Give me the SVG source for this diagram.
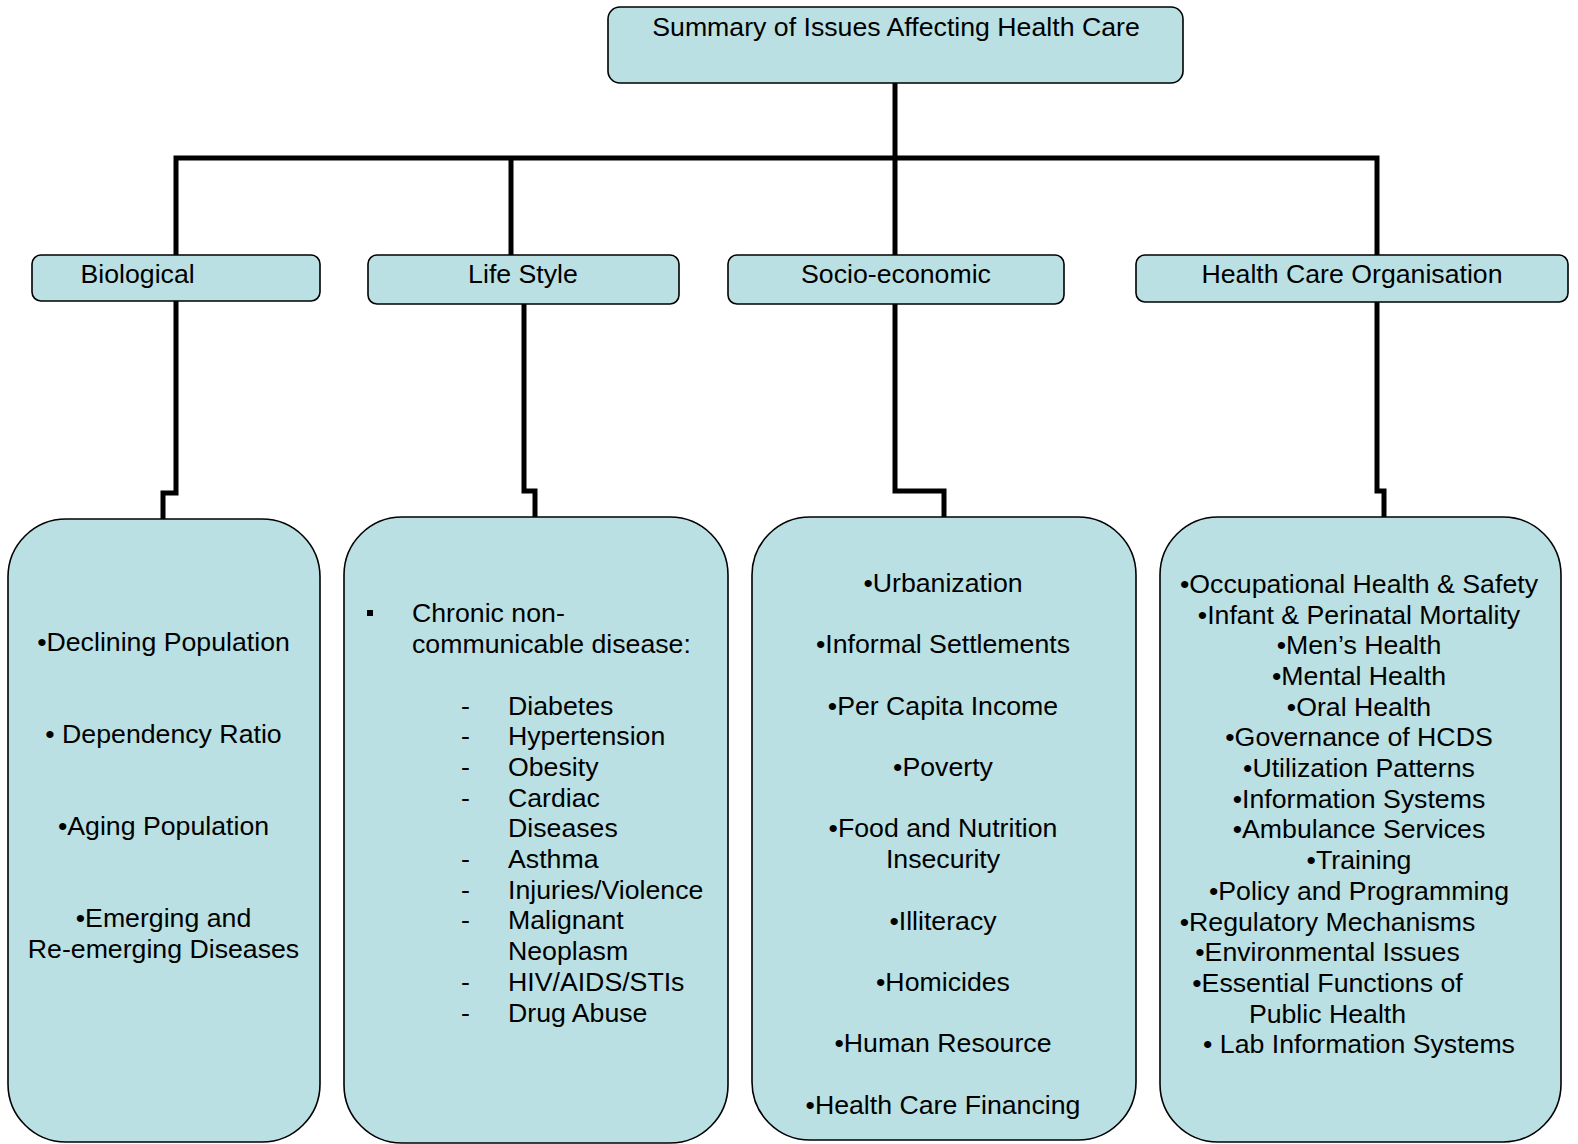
<svg xmlns="http://www.w3.org/2000/svg" width="1578" height="1144" viewBox="0 0 1578 1144">
<style>
.box{fill:#BAE0E3;stroke:#000;stroke-width:1.6}
.t{font-family:"Liberation Sans",Arial,sans-serif;font-size:26.7px;fill:#000}
.c{text-anchor:middle}
.conn{fill:none;stroke:#000;stroke-width:5;stroke-linejoin:miter;stroke-linecap:butt}
</style>
<rect width="1578" height="1144" fill="#fff"/>
<g id="connectors">
<path class="conn" d="M895 83 V255"/>
<path class="conn" d="M176 255 V158 H1377 V255"/>
<path class="conn" d="M511 158 V255"/>
<path class="conn" d="M176 301 V493 H163 V519"/>
<path class="conn" d="M524 304 V491 H535 V517"/>
<path class="conn" d="M895 304 V491 H944 V517"/>
<path class="conn" d="M1377 302 V491 H1384 V517"/>
</g>
<g id="root">
<rect class="box" x="608" y="7" width="575" height="76" rx="12"/>
<text class="t c" x="896" y="36">Summary of Issues Affecting Health Care</text>
</g>
<g id="biological">
<rect class="box" x="32" y="255" width="288" height="46" rx="9"/>
<text class="t" x="80.5" y="283">Biological</text>
</g>
<g id="lifestyle">
<rect class="box" x="368" y="255" width="311" height="49" rx="9"/>
<text class="t c" x="523" y="283">Life Style</text>
</g>
<g id="socioeconomic">
<rect class="box" x="728" y="255" width="336" height="49" rx="9"/>
<text class="t c" x="896" y="283">Socio-economic</text>
</g>
<g id="hco">
<rect class="box" x="1136" y="255" width="432" height="47" rx="9"/>
<text class="t c" x="1352" y="283">Health Care Organisation</text>
</g>
<g id="biological-items">
<rect class="box" x="8" y="519" width="312" height="623" rx="58"/>
<text class="t c" x="163.5" y="651">•Declining Population</text>
<text class="t c" x="163.5" y="743">• Dependency Ratio</text>
<text class="t c" x="163.5" y="835">•Aging Population</text>
<text class="t c" x="163.5" y="927">•Emerging and</text>
<text class="t c" x="163.5" y="958">Re-emerging Diseases</text>
</g>
<g id="lifestyle-items">
<rect class="box" x="344" y="517" width="384" height="626" rx="58"/>
<rect x="367" y="610" width="6" height="6" fill="#000"/>
<text class="t" x="412" y="622">Chronic non-</text>
<text class="t" x="412" y="652.7">communicable disease:</text>
<g class="t">
<text x="461" y="714.5">-</text><text x="508" y="714.5">Diabetes</text>
<text x="461" y="745.2">-</text><text x="508" y="745.2">Hypertension</text>
<text x="461" y="775.9">-</text><text x="508" y="775.9">Obesity</text>
<text x="461" y="806.6">-</text><text x="508" y="806.6">Cardiac</text>
<text x="508" y="837.3">Diseases</text>
<text x="461" y="868">-</text><text x="508" y="868">Asthma</text>
<text x="461" y="898.7">-</text><text x="508" y="898.7">Injuries/Violence</text>
<text x="461" y="929.4">-</text><text x="508" y="929.4">Malignant</text>
<text x="508" y="960.1">Neoplasm</text>
<text x="461" y="990.8">-</text><text x="508" y="990.8">HIV/AIDS/STIs</text>
<text x="461" y="1021.5">-</text><text x="508" y="1021.5">Drug Abuse</text>
</g>
</g>
<g id="socio-items">
<rect class="box" x="752" y="517" width="384" height="623" rx="58"/>
<g class="t c">
<text x="943" y="591.8">•Urbanization</text>
<text x="943" y="653.2">•Informal Settlements</text>
<text x="943" y="714.6">•Per Capita Income</text>
<text x="943" y="776">•Poverty</text>
<text x="943" y="837.4">•Food and Nutrition</text>
<text x="943" y="868.1">Insecurity</text>
<text x="943" y="929.5">•Illiteracy</text>
<text x="943" y="990.9">•Homicides</text>
<text x="943" y="1052.3">•Human Resource</text>
<text x="943" y="1113.7">•Health Care Financing</text>
</g>
</g>
<g id="hco-items">
<rect class="box" x="1160" y="517" width="401" height="625" rx="58"/>
<g class="t c">
<text x="1359" y="592.8">•Occupational Health &amp; Safety</text>
<text x="1359" y="623.5">•Infant &amp; Perinatal Mortality</text>
<text x="1359" y="654.2">•Men’s Health</text>
<text x="1359" y="684.9">•Mental Health</text>
<text x="1359" y="715.6">•Oral Health</text>
<text x="1359" y="746.3">•Governance of HCDS</text>
<text x="1359" y="777">•Utilization Patterns</text>
<text x="1359" y="807.7">•Information Systems</text>
<text x="1359" y="838.4">•Ambulance Services</text>
<text x="1359" y="869.1">•Training</text>
<text x="1359" y="899.8">•Policy and Programming</text>
<text x="1327.5" y="930.5">•Regulatory Mechanisms</text>
<text x="1327.5" y="961.2">•Environmental Issues</text>
<text x="1327.5" y="991.9">•Essential Functions of</text>
<text x="1327.5" y="1022.6">Public Health</text>
<text x="1359" y="1053.3">• Lab Information Systems</text>
</g>
</g>
</svg>
